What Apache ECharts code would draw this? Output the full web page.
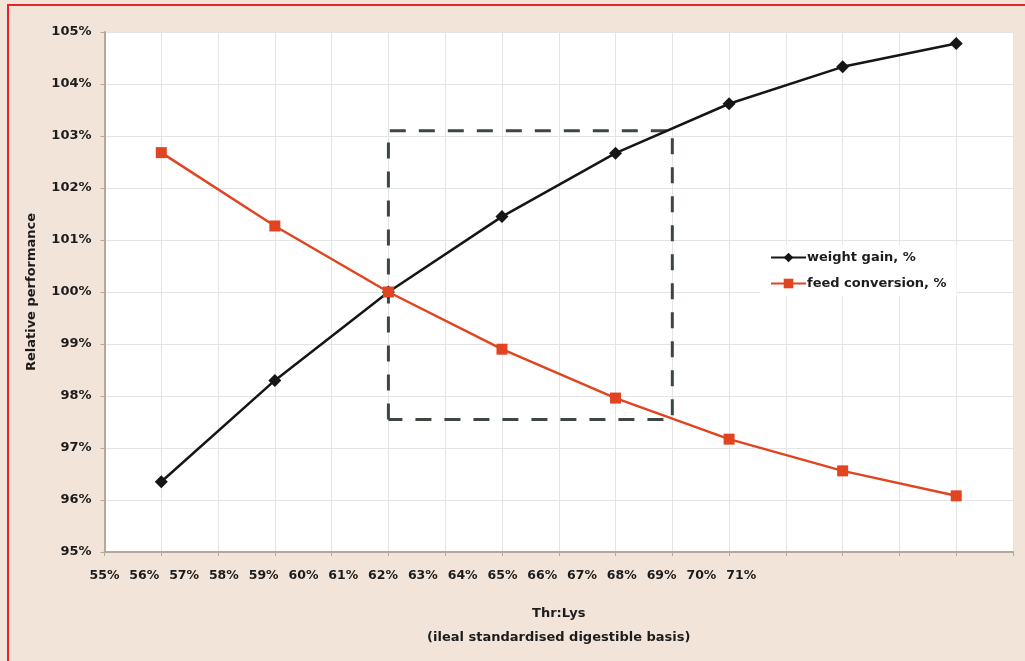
<!DOCTYPE html>
<html>
<head>
<meta charset="utf-8">
<title>Thr:Lys relative performance</title>
<script src="https://cdn.jsdelivr.net/npm/echarts@6/dist/echarts.min.js"></script>
<style>
  html, body { margin: 0; padding: 0; background: #f2e4d8; }
  #chart { width: 1025px; height: 661px; }
</style>
</head>
<body>
<div id="chart"></div>
<script>
// Dietary Thr:Lys ratio (%) for each trial level
const thrLys = [56, 59, 62, 65, 68, 71, 74, 77];
// Relative performance (%) against the 62% reference diet
const weightGain = [96.35, 98.3, 100.0, 101.45, 102.67, 103.62, 104.33, 104.78];
const feedConversion = [102.68, 101.27, 100.0, 98.9, 97.96, 97.17, 96.56, 96.08];
// Recommended window outlined with a dashed box
const optimumThrLys = [62, 69.5];
const optimumPerformance = [97.55, 103.1];
// Printed Thr:Lys tick labels
const thrLysTickLabels = ['55%', '56%', '57%', '58%', '59%', '60%', '61%', '62%', '63%',
  '64%', '65%', '66%', '67%', '68%', '69%', '70%', '71%'];
const seriesNames = ['weight gain, %', 'feed conversion, %'];

const FONT = 'DejaVu Sans';
const TEXT = '#1c1c1c';
const AXIS = '#b3a899';

const box = [
  [optimumThrLys[0], optimumPerformance[0]],
  [optimumThrLys[0], optimumPerformance[1]],
  [optimumThrLys[1], optimumPerformance[1]],
  [optimumThrLys[1], optimumPerformance[0]],
  [optimumThrLys[0], optimumPerformance[0]]
];

const chart = echarts.init(document.getElementById('chart'), null, { renderer: 'canvas' });

chart.setOption({
  backgroundColor: '#f2e4d8',
  animation: false,
  textStyle: { fontFamily: FONT },
  graphic: [{
    type: 'rect',
    silent: true,
    z: 100,
    shape: { x: 8, y: 5, width: 1100, height: 700 },
    style: { fill: 'none', stroke: '#e8232b', lineWidth: 2 }
  }],
  grid: {
    left: 104.5, right: 12, top: 32, bottom: 109,
    outerBoundsMode: 'none',
    containLabel: false,
    show: true, backgroundColor: '#ffffff', borderWidth: 0
  },
  legend: {
    orient: 'vertical',
    left: 760, top: 245,
    padding: [6, 10, 6, 10],
    backgroundColor: '#ffffff',
    itemWidth: 35, itemHeight: 12, itemGap: 13,
    textStyle: { fontFamily: FONT, fontSize: 13, fontWeight: 'bold', color: TEXT, padding: [0, 0, 0, -4] },
    data: seriesNames
  },
  xAxis: [{
    type: 'value',
    min: 54.5, max: 78.5, interval: 1.5,
    axisLine: { lineStyle: { color: AXIS, width: 2 } },
    axisTick: { show: true, length: 4, lineStyle: { color: AXIS } },
    axisLabel: { show: false },
    splitLine: { show: true, lineStyle: { color: '#e4e4e4', width: 1 } },
    name: 'Thr:Lys\n(ileal standardised digestible basis)',
    nameLocation: 'middle',
    nameGap: 50,
    nameTextStyle: { fontFamily: FONT, fontSize: 13, fontWeight: 'bold', color: TEXT, lineHeight: 24 }
  }, {
    type: 'value',
    position: 'bottom',
    min: 55, max: 77.83, interval: 1,
    axisLine: { show: false },
    axisTick: { show: false },
    splitLine: { show: false },
    axisLabel: {
      show: true, margin: 17, showMaxLabel: false,
      fontFamily: FONT, fontSize: 12.5, fontWeight: 'bold', color: TEXT,
      formatter: v => thrLysTickLabels[Math.round(v) - 55] || ''
    }
  }],
  yAxis: {
    type: 'value',
    min: 95, max: 105, interval: 1,
    axisLine: { show: true, lineStyle: { color: AXIS, width: 2 } },
    axisTick: { show: true, length: 4, lineStyle: { color: AXIS } },
    axisLabel: {
      margin: 13, fontFamily: FONT, fontSize: 13, fontWeight: 'bold', color: TEXT,
      formatter: v => v + '%'
    },
    splitLine: { show: true, lineStyle: { color: '#e4e4e4', width: 1 } },
    name: 'Relative performance',
    nameLocation: 'middle',
    nameGap: 66,
    nameTextStyle: { fontFamily: FONT, fontSize: 13, fontWeight: 'bold', color: TEXT }
  },
  series: [{
    name: 'optimum',
    type: 'line',
    xAxisIndex: 0,
    silent: true,
    symbol: 'none',
    z: 1,
    lineStyle: { color: '#3c4740', width: 3, type: [16, 13] },
    data: box
  }, {
    name: seriesNames[0],
    type: 'line',
    xAxisIndex: 0,
    z: 3,
    symbol: 'diamond', symbolSize: 13,
    color: '#161616',
    lineStyle: { color: '#161616', width: 2.5 },
    itemStyle: { color: '#161616' },
    data: thrLys.map((x, i) => [x, weightGain[i]])
  }, {
    name: seriesNames[1],
    type: 'line',
    xAxisIndex: 0,
    z: 4,
    symbol: 'rect', symbolSize: 11,
    color: '#e04421',
    lineStyle: { color: '#e04421', width: 2.5 },
    itemStyle: { color: '#e04421' },
    data: thrLys.map((x, i) => [x, feedConversion[i]])
  }]
});
</script>
</body>
</html>
